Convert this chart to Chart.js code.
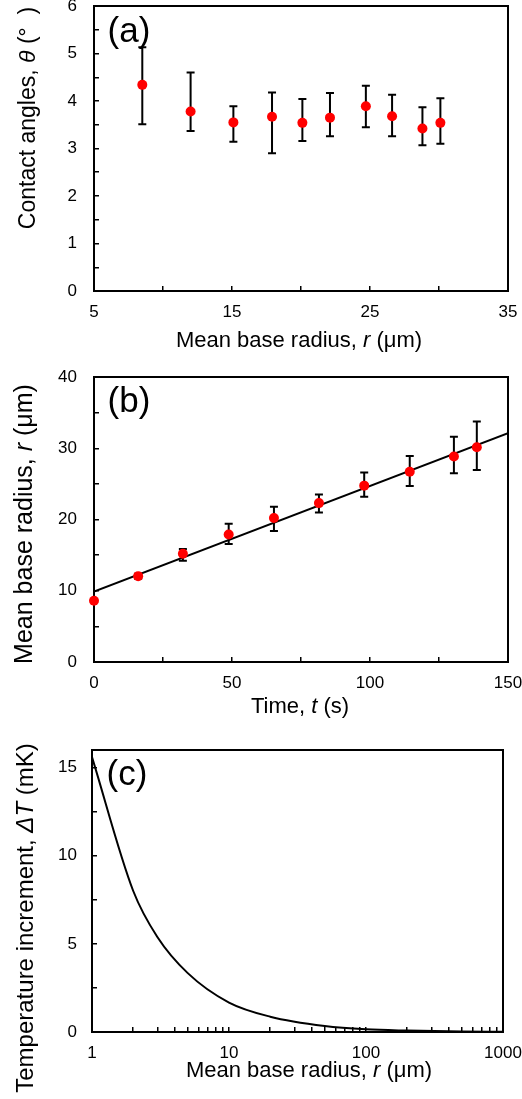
<!DOCTYPE html>
<html>
<head>
<meta charset="utf-8">
<script src="https://cdn.jsdelivr.net/npm/chart.js@4"></script>
<style>
  body { margin: 0; background: #fff; }
  canvas { position: absolute; left: 0; }
</style>
</head>
<body>
<canvas id="chartA" width="522" height="360" style="top:0px"></canvas>
<canvas id="chartB" width="522" height="360" style="top:360px"></canvas>
<canvas id="chartC" width="522" height="379" style="top:720px"></canvas>
<script>
// (a) contact angle vs radius
const radiusA = [8.5, 12.0, 15.1, 17.9, 20.1, 22.1, 24.7, 26.6, 28.8, 30.1];
const angleA = [4.34, 3.78, 3.55, 3.67, 3.54, 3.65, 3.89, 3.68, 3.42, 3.54];
const angleHi = [5.13, 4.6, 3.89, 4.18, 4.04, 4.17, 4.32, 4.13, 3.87, 4.06];
const angleLo = [3.51, 3.37, 3.14, 2.9, 3.16, 3.26, 3.45, 3.26, 3.07, 3.1];
const ticksAx = [5, 10, 15, 20, 25, 30, 35];
const labelsAx = [5, 15, 25, 35];
const ticksAy = [0, 0.5, 1, 1.5, 2, 2.5, 3, 3.5, 4, 4.5, 5, 5.5, 6];
const labelsAy = [0, 1, 2, 3, 4, 5, 6];

// (b) radius vs time
const timeB = [0, 16, 32.2, 48.8, 65.2, 81.5, 97.9, 114.4, 130.4, 138.7];
const radiusB = [8.6, 12.05, 15.2, 17.9, 20.2, 22.3, 24.75, 26.7, 28.85, 30.15];
const radiusHi = [8.6, 12.4, 15.85, 19.4, 21.8, 23.5, 26.6, 28.9, 31.6, 33.75];
const radiusLo = [8.6, 11.7, 14.2, 16.55, 18.4, 21.0, 23.2, 24.7, 26.5, 26.95];
const fitT = [0, 150];
const fitR = [9.9, 32.1];
const ticksBx = [0, 25, 50, 75, 100, 125, 150];
const labelsBx = [0, 50, 100, 150];
const ticksBy = [0, 5, 10, 15, 20, 25, 30, 35, 40];
const labelsBy = [0, 10, 20, 30, 40];

// (c) temperature increment vs radius
const radiusC = [1, 2, 3, 5, 10, 20, 50, 100, 200, 500, 1000];
const deltaT = [15.6, 8.0, 5.39, 3.34, 1.67, 0.87, 0.34, 0.15, 0.08, 0.03, 0.015];
const ticksCx = [1, 2, 3, 4, 5, 6, 7, 8, 9, 10, 20, 30, 40, 50, 60, 70, 80, 90, 100,
  200, 300, 400, 500, 600, 700, 800, 900, 1000];
const labelsCx = [1, 10, 100, 1000];
const ticksCy = [0, 2.5, 5, 7.5, 10, 12.5, 15];
const labelsCy = [0, 5, 10, 15];

const FONT = '"Liberation Sans", Arial, sans-serif';

function drawText(ctx, segs, x, y, size, rotate) {
  ctx.save();
  ctx.translate(x, y);
  if (rotate) ctx.rotate(-Math.PI / 2);
  ctx.fillStyle = '#000';
  ctx.textAlign = 'left';
  ctx.textBaseline = 'alphabetic';
  let total = 0;
  segs.forEach(s => {
    ctx.font = (s.i ? 'italic ' : '') + size + 'px ' + FONT;
    total += ctx.measureText(s.t).width;
  });
  let cx = -total / 2;
  segs.forEach(s => {
    ctx.font = (s.i ? 'italic ' : '') + size + 'px ' + FONT;
    ctx.fillText(s.t, cx, 0);
    cx += ctx.measureText(s.t).width;
  });
  ctx.restore();
}

function panel(cfg) {
  return {
    id: 'panel',
    beforeDatasetsDraw(chart) {
      const ctx = chart.ctx, a = chart.chartArea;
      ctx.save();
      ctx.strokeStyle = '#000';
      ctx.lineWidth = 2;
      ctx.strokeRect(a.left, a.top, a.right - a.left, a.bottom - a.top);
      if (cfg.err) {
        const xs = chart.scales.x, ys = chart.scales.y;
        cfg.err.x.forEach((v, i) => {
          const hi = cfg.err.hi[i], lo = cfg.err.lo[i];
          if (hi === lo) return;
          const px = xs.getPixelForValue(v);
          const y1 = ys.getPixelForValue(hi), y2 = ys.getPixelForValue(lo);
          ctx.beginPath();
          ctx.moveTo(px, y1); ctx.lineTo(px, y2);
          ctx.moveTo(px - 4, y1); ctx.lineTo(px + 4, y1);
          ctx.moveTo(px - 4, y2); ctx.lineTo(px + 4, y2);
          ctx.stroke();
        });
      }
      ctx.restore();
    },
    afterDraw(chart) {
      const ctx = chart.ctx;
      drawText(ctx, [{ t: cfg.label }], cfg.lx, cfg.ly, 35, false);
      drawText(ctx, cfg.xt, cfg.xtx, cfg.xty, 22, false);
      drawText(ctx, cfg.yt, cfg.ytx, cfg.yty, cfg.yts, true);
    }
  };
}

function axis(type, min, max, ticks, labels, o) {
  return {
    type, min, max,
    afterBuildTicks: s => { s.ticks = ticks.map(v => ({ value: v })); },
    afterFit: s => {
      if (o.w) s.width = o.w;
      if (o.h) s.height = o.h;
      s.paddingLeft = 0; s.paddingRight = 0; s.paddingTop = 0; s.paddingBottom = 0;
    },
    grid: { display: true, drawOnChartArea: false, drawTicks: true, tickLength: -5, color: '#000', lineWidth: 1.5 },
    border: { display: false },
    ticks: {
      autoSkip: false, maxRotation: 0, minRotation: 0, padding: o.pad, color: '#000',
      font: { family: FONT, size: 17 },
      callback: v => labels.includes(v) ? String(v) : ''
    }
  };
}

function pts(xs, ys) { return xs.map((x, i) => ({ x, y: ys[i] })); }

const base = {
  responsive: false,
  animation: false,
  events: [],
  plugins: { legend: { display: false }, tooltip: { enabled: false } }
};

new Chart(document.getElementById('chartA'), {
  type: 'scatter',
  data: {
    datasets: [{
      data: pts(radiusA, angleA), pointRadius: 5, backgroundColor: '#ff0000', borderWidth: 0, clip: false
    }]
  },
  options: Object.assign({}, base, {
    layout: { padding: { top: 6, right: 14, left: 0, bottom: 0 } },
    scales: {
      x: axis('linear', 5, 35, ticksAx, labelsAx, { h: 69, pad: 16 }),
      y: axis('linear', 0, 6, ticksAy, labelsAy, { w: 94, pad: 22 })
    }
  }),
  plugins: [panel({
    label: '(a)', lx: 129, ly: 42,
    xt: [{ t: 'Mean base radius, ' }, { t: 'r', i: true }, { t: ' (μm)' }], xtx: 299, xty: 347,
    yt: [{ t: 'Contact angles, ' }, { t: 'θ', i: true }, { t: ' (°  )' }], ytx: 35, yty: 118, yts: 23,
    err: { x: radiusA, hi: angleHi, lo: angleLo }
  })]
});

new Chart(document.getElementById('chartB'), {
  type: 'scatter',
  data: {
    datasets: [{
      data: pts(timeB, radiusB), pointRadius: 5, backgroundColor: '#ff0000', borderWidth: 0, clip: false
    }, {
      data: pts(fitT, fitR), showLine: true, pointRadius: 0, borderColor: '#000', borderWidth: 2
    }]
  },
  options: Object.assign({}, base, {
    layout: { padding: { top: 17, right: 14, left: 0, bottom: 0 } },
    scales: {
      x: axis('linear', 0, 150, ticksBx, labelsBx, { h: 58, pad: 16 }),
      y: axis('linear', 0, 40, ticksBy, labelsBy, { w: 94, pad: 22 })
    }
  }),
  plugins: [panel({
    label: '(b)', lx: 129, ly: 52,
    xt: [{ t: 'Time, ' }, { t: 't', i: true }, { t: ' (s)' }], xtx: 300, xty: 353,
    yt: [{ t: 'Mean base radius, ' }, { t: 'r', i: true }, { t: ' (μm)' }], ytx: 32, yty: 164, yts: 25,
    err: { x: timeB, hi: radiusHi, lo: radiusLo }
  })]
});

new Chart(document.getElementById('chartC'), {
  type: 'scatter',
  data: {
    datasets: [{
      data: pts(radiusC, deltaT), showLine: true, pointRadius: 0, borderColor: '#000', borderWidth: 2,
      cubicInterpolationMode: 'monotone'
    }]
  },
  options: Object.assign({}, base, {
    layout: { padding: { top: 30, right: 19, left: 0, bottom: 0 } },
    scales: {
      x: axis('logarithmic', 1, 1000, ticksCx, labelsCx, { h: 67, pad: 16 }),
      y: axis('linear', 0, 16, ticksCy, labelsCy, { w: 92, pad: 20 })
    }
  }),
  plugins: [panel({
    label: '(c)', lx: 127, ly: 65,
    xt: [{ t: 'Mean base radius, ' }, { t: 'r', i: true }, { t: ' (μm)' }], xtx: 309, xty: 357,
    yt: [{ t: 'Temperature increment, ' }, { t: 'ΔT', i: true }, { t: ' (mK)' }], ytx: 33, yty: 198, yts: 24
  })]
});
</script>
</body>
</html>
